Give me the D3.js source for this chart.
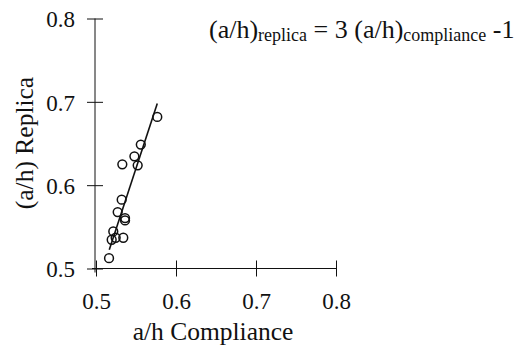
<!DOCTYPE html>
<html>
<head>
<meta charset="utf-8">
<script src="https://cdn.jsdelivr.net/npm/d3@7"></script>
<style>
  body { margin: 0; background: #fff; }
  svg { display: block; }
  svg text { font-family: "Liberation Serif", "Liberation Sans", serif; }
</style>
</head>
<body>
<svg width="518" height="348"></svg>
<script>
// values
const compliance = [0.5163, 0.5196, 0.5246, 0.5216, 0.5341, 0.5271, 0.5363, 0.5363, 0.5321, 0.5329, 0.5521, 0.548, 0.556, 0.5766];
const replica    = [0.5124, 0.5345, 0.5369, 0.5445, 0.5369, 0.5677, 0.5605, 0.5577, 0.5826, 0.625, 0.6238, 0.6346, 0.6487, 0.6819];
const fitX = [0.5166, 0.5766];
const fitY = [0.5225, 0.698];
const tickValues = [0.5, 0.6, 0.7, 0.8];

const svg = d3.select("svg");
const x = d3.scaleLinear().domain([0.5, 0.8]).range([96, 336]);
const y = d3.scaleLinear().domain([0.5, 0.8]).range([268.5, 18.5]);

// x axis, ticks cross the line
const xAxis = svg.append("g")
    .attr("transform", `translate(0,${y(0.5)})`)
    .call(d3.axisBottom(x).tickValues(tickValues).tickFormat(d3.format(".1f")).tickSize(8));
xAxis.attr("font-family", null);
xAxis.select(".domain").attr("d", `M${x(0.5) - 4},0H${x(0.8)}`).attr("stroke", "#111");
xAxis.selectAll(".tick line").attr("y1", -8).attr("y2", 8).attr("stroke", "#111");
xAxis.selectAll(".tick text")
    .attr("y", 40).attr("dy", null)
    .attr("font-size", 23).attr("fill", "#111");

// y axis
const yAxis = svg.append("g")
    .attr("transform", `translate(${x(0.5) - 1},0)`)
    .call(d3.axisLeft(y).tickValues(tickValues).tickFormat(d3.format(".1f")).tickSize(8));
yAxis.attr("font-family", null);
yAxis.select(".domain").attr("d", `M0,${y(0.8)}V${y(0.5) + 4}`).attr("stroke", "#111");
yAxis.selectAll(".tick line").attr("x1", -8).attr("x2", 8).attr("stroke", "#111");
yAxis.selectAll(".tick text")
    .attr("x", -20).attr("dy", "0.36em")
    .attr("font-size", 23).attr("fill", "#111");

// axis titles
svg.append("text")
    .attr("x", 213).attr("y", 340)
    .attr("text-anchor", "middle")
    .attr("font-size", 25.5).attr("fill", "#111")
    .text("a/h Compliance");

svg.append("text")
    .attr("transform", "translate(33,143) rotate(-90)")
    .attr("text-anchor", "middle")
    .attr("font-size", 25.5).attr("fill", "#111")
    .text("(a/h) Replica");

// fitted line
svg.append("line")
    .attr("x1", x(fitX[0])).attr("y1", y(fitY[0]))
    .attr("x2", x(fitX[1])).attr("y2", y(fitY[1]))
    .attr("stroke", "#111").attr("stroke-width", 1.6);

// points
svg.append("g").selectAll("circle")
    .data(compliance.map((c, i) => ({c, r: replica[i]})))
    .enter()
    .append("circle")
    .attr("cx", d => x(d.c))
    .attr("cy", d => y(d.r))
    .attr("r", 4.4)
    .attr("fill", "none")
    .attr("stroke", "#111")
    .attr("stroke-width", 1.5);

// equation
const eq = svg.append("text")
    .attr("x", 209).attr("y", 38)
    .attr("font-size", 26).attr("fill", "#111");
eq.append("tspan").text("(a/h)");
eq.append("tspan").attr("font-size", 18).attr("dy", 3).text("replica");
eq.append("tspan").attr("dy", -3).text(" = 3 (a/h)");
eq.append("tspan").attr("font-size", 18).attr("dy", 3).text("compliance");
eq.append("tspan").attr("dy", -3).text(" -1");
</script>
</body>
</html>
